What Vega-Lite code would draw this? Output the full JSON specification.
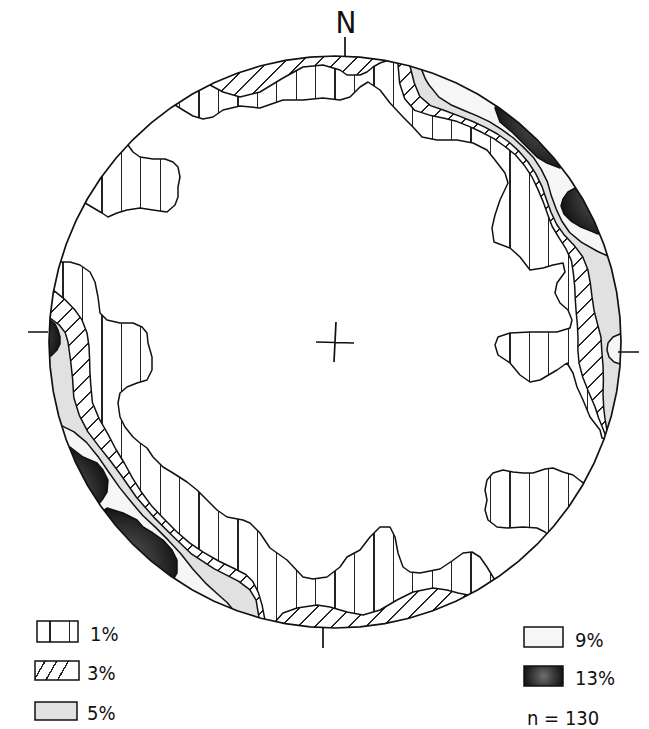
{
  "$schema": "https://vega.github.io/schema/vega-lite/v6.json",
  "width": 649,
  "height": 729,
  "padding": 0,
  "autosize": {"type": "none"},
  "background": "white",
  "config": {"view": {"stroke": null}},
  "projection": {"type": "identity", "reflectY": true, "scale": 1, "translate": [335, 342]},
  "datasets": {
    "contours": [
      {"type": "Feature", "properties": {"level": "1%"}, "geometry": {"type": "MultiPolygon", "coordinates": [
        [[[-160,237],[-152,232],[-142,226],[-132,223],[-122,225],[-112,232],[-95,236],[-75,234],[-52,242],[-32,242],[-12,244],[5,242],[15,245],[25,255],[33,260],[45,252],[55,239],[68,225],[78,215],[87,205],[102,202],[122,202],[138,199],[152,192],[160,182],[170,169],[173,159],[165,142],[160,127],[157,114],[159,100],[175,94],[185,85],[195,72],[208,74],[218,77],[228,79],[230,70],[222,59],[220,49],[225,39],[233,32],[237,22],[235,14],[222,10],[195,10],[175,9],[163,5],[160,-3],[163,-13],[175,-21],[185,-33],[195,-40],[205,-38],[222,-28],[232,-21],[238,-31],[242,-45],[248,-58],[255,-75],[265,-88],[267,-96],[318,-114],[340,0],[294,170],[170,294],[0,340],[-170,294],[-190,282],[-160,237]]],
        [[[-275,80],[-265,80],[-255,77],[-245,70],[-240,60],[-237,45],[-235,29],[-228,22],[-215,19],[-202,19],[-193,15],[-188,9],[-187,-1],[-183,-15],[-183,-28],[-188,-38],[-198,-41],[-208,-45],[-215,-51],[-217,-61],[-215,-75],[-210,-85],[-202,-95],[-195,-101],[-188,-106],[-182,-115],[-172,-125],[-162,-131],[-148,-140],[-138,-148],[-128,-158],[-118,-168],[-108,-175],[-92,-178],[-85,-181],[-75,-191],[-65,-206],[-48,-218],[-32,-235],[-22,-237],[-8,-235],[5,-225],[12,-215],[25,-208],[35,-195],[45,-185],[55,-185],[60,-195],[63,-211],[68,-225],[75,-230],[85,-231],[95,-229],[105,-227],[117,-219],[128,-211],[137,-210],[145,-215],[152,-225],[158,-235],[190,-282],[170,-294],[0,-340],[-170,-294],[-294,-170],[-340,0],[-327,95],[-275,80]]],
        [[[-207,197],[-202,190],[-195,185],[-182,183],[-170,183],[-162,180],[-157,175],[-155,165],[-157,155],[-157,145],[-160,137],[-168,130],[-182,132],[-195,134],[-208,132],[-218,129],[-227,125],[-233,129],[-250,139],[-300,167],[-248,236],[-207,197]]],
        [[[247,-140],[238,-133],[228,-130],[218,-126],[210,-127],[198,-131],[188,-131],[178,-130],[168,-128],[158,-131],[152,-138],[150,-148],[152,-158],[150,-168],[153,-178],[162,-185],[172,-186],[188,-185],[202,-186],[210,-190],[252,-228],[296,-168],[247,-140]]]
      ]}},
      {"type": "Feature", "properties": {"level": "3%"}, "geometry": {"type": "MultiPolygon", "coordinates": [
        [[[-125,257],[-112,250],[-95,245],[-75,250],[-52,264],[-32,275],[-12,277],[5,272],[12,267],[25,267],[32,270],[38,275],[45,279],[51,281],[61,337],[0,340],[-150,308],[-125,257]]],
        [[[62.9,279.0],[64.6,259.1],[69.7,243.2],[79.8,231.6],[96.1,226.4],[109.2,223.8],[122.2,220.4],[134.6,215.4],[146.8,209.7],[158.9,203.3],[169.9,195.5],[180.6,187.0],[189.4,176.6],[196.9,165.2],[202.8,152.9],[208.1,140.4],[212.6,127.7],[217.2,115.5],[223.9,104.4],[230.9,93.3],[236.4,81.4],[238.4,68.3],[239.7,55.4],[240.3,42.4],[241.2,29.6],[242.4,17.0],[243.0,4.3],[242.9,-8.5],[244.1,-21.4],[247.6,-34.8],[253.3,-49.2],[260.0,-64.8],[263.4,-75.5],[267.0,-84.2],[270.4,-93.1],[321.5,-110.7],[340,0],[294.4,170],[170,294.4],[74.7,331.7],[62.9,279.0]]],
        [[[-281.3,51.6],[-270.6,42.9],[-260.0,31.9],[-253.0,22.1],[-247.9,8.7],[-246.0,-4.3],[-245.4,-17.2],[-245.1,-30.1],[-244.2,-43.1],[-242.6,-60.5],[-235.9,-76.6],[-227.2,-91.8],[-219.3,-107.0],[-210.4,-121.5],[-202.3,-136.4],[-193.1,-150.8],[-182.8,-164.6],[-170.9,-176.9],[-158.8,-189.2],[-145.8,-200.6],[-131.4,-210.3],[-116.4,-219.0],[-100.9,-226.5],[-89.2,-232.5],[-82.4,-239.2],[-76.6,-250.6],[-72.9,-263.1],[-70.2,-277.2],[-83.4,-329.6],[-170,-294.4],[-294.4,-170],[-340,0],[-334.4,61.4],[-281.3,51.6]]],
        [[[-60,-280],[-52,-271],[-38,-266],[-18,-263],[-5,-265],[12,-270],[28,-273],[45,-268],[62,-258],[78,-250],[98,-246],[112,-248],[123,-251],[133,-253],[160,-304],[0,-340],[-72,-336],[-60,-280]]]
      ]}},
      {"type": "Feature", "properties": {"level": "5%"}, "geometry": {"type": "MultiPolygon", "coordinates": [
        [[[75.0,276.0],[79.2,259.2],[84.7,245.8],[95.5,236.4],[108.2,232.0],[125.1,225.6],[137.8,220.5],[150.3,214.6],[162.5,208.0],[173.9,200.0],[184.1,190.6],[193.1,180.0],[200.7,168.4],[206.8,155.9],[211.4,142.6],[216.0,129.8],[221.6,117.8],[229.3,106.9],[239.2,96.6],[247.7,85.3],[252.8,72.5],[255.3,59.0],[257.0,45.3],[259.0,31.8],[262.4,18.4],[266.0,4.7],[266.8,-9.3],[268.0,-23.5],[268.4,-37.7],[268.0,-52.1],[268.8,-67.0],[270.1,-77.4],[272.0,-88.4],[323.4,-105.1],[340,0],[294.4,170],[170,294.4],[89.1,328.1],[75.0,276.0]]],
        [[[-285.0,23.9],[-275.5,16.8],[-269.8,9.4],[-267.0,0],[-264.4,-18.5],[-262.4,-36.9],[-261.2,-55.5],[-255.7,-73.3],[-247.1,-89.9],[-235.7,-104.9],[-224.3,-119.3],[-213.7,-133.5],[-198.6,-155.2],[-181.3,-175.1],[-162.6,-193.8],[-143.2,-212.2],[-120.7,-226.9],[-96.6,-239.2],[-85.3,-247.7],[-78.9,-258.2],[-76.0,-275.7],[-90.3,-327.8],[-170,-294.4],[-294.4,-170],[-340,0],[-338.8,28.5],[-285.0,23.9]]]
      ]}},
      {"type": "Feature", "properties": {"level": "9%"}, "geometry": {"type": "MultiPolygon", "coordinates": [
        [[[86.5,272.6],[90.5,262.8],[93.7,257.5],[103.9,244.9],[115.7,237.3],[128.5,231.8],[141.5,226.4],[154.3,220.4],[166.2,212.8],[177.8,204.5],[188.3,194.9],[198.2,184.8],[206.1,172.9],[212.4,160.1],[216.4,145.9],[221.2,132.9],[226.9,120.7],[234.7,109.5],[246.6,99.6],[262.8,90.5],[272.8,86.0],[324.3,102.2],[294.4,170],[170,294.4],[102.8,324.1],[86.5,272.6]]],
        [[[-273.5,-83.6],[-261.0,-89.9],[-248.5,-100.4],[-236.4,-115.3],[-226.0,-130.5],[-215.5,-145.4],[-204.1,-159.5],[-192.5,-173.3],[-179.2,-185.6],[-166.5,-198.4],[-154.0,-212.0],[-142.0,-227.3],[-128.6,-241.9],[-117.5,-252.0],[-107.9,-260.5],[-102.5,-267.0],[-121.9,-317.4],[-170,-294.4],[-294.4,-170],[-325.1,-99.4],[-273.5,-83.6]]],
        [[[285,8],[278,5],[273,-1],[272,-8],[274,-15],[279,-20],[285,-22],[342,-26],[342,10],[285,8]]]
      ]}},
      {"type": "Feature", "properties": {"level": "13%"}, "geometry": {"type": "Polygon", "coordinates": [[[160,234],[165,220],[178,209],[192,195],[202,185],[212,179],[225,174],[270,209],[192,281],[160,234]]]}},
      {"type": "Feature", "properties": {"level": "13%"}, "geometry": {"type": "Polygon", "coordinates": [[[242,155],[233,150],[228,143],[226,136],[229,128],[236,121],[246,115],[256,111],[263,108],[316,130],[290,186],[242,155]]]}},
      {"type": "Feature", "properties": {"level": "13%"}, "geometry": {"type": "Polygon", "coordinates": [[[-265,-105],[-252,-115],[-238,-121],[-232,-128],[-227,-138],[-228,-150],[-233,-158],[-237,-163],[-284,-196],[-318,-126],[-265,-105]]]}},
      {"type": "Feature", "properties": {"level": "13%"}, "geometry": {"type": "Polygon", "coordinates": [[[-228,-166],[-212,-171],[-198,-178],[-192,-185],[-182,-191],[-172,-198],[-163,-208],[-158,-218],[-158,-231],[-162,-238],[-194,-286],[-274,-199],[-228,-166]]]}},
      {"type": "Feature", "properties": {"level": "13%"}, "geometry": {"type": "Polygon", "coordinates": [[[-285,22],[-280,18],[-277,12],[-275,5],[-275,-2],[-278,-8],[-284,-14],[-341,-17],[-341,26],[-285,22]]]}}
    ],
    "frame": [
      {"type": "Feature", "properties": {"part": "mask"}, "geometry": {"type": "Polygon", "coordinates": [
        [[-400,430],[400,430],[400,-430],[-400,-430],[-400,430]],
        [[286,0],[284.9,24.9],[281.7,49.7],[276.3,74],[268.8,97.8],[259.2,120.9],[247.7,143],[234.3,164],[219.1,183.8],[202.2,202.2],[183.8,219.1],[164,234.3],[143,247.7],[120.9,259.2],[97.8,268.8],[74,276.3],[49.7,281.7],[24.9,284.9],[0,286],[-24.9,284.9],[-49.7,281.7],[-74,276.3],[-97.8,268.8],[-120.9,259.2],[-143,247.7],[-164,234.3],[-183.8,219.1],[-202.2,202.2],[-219.1,183.8],[-234.3,164],[-247.7,143],[-259.2,120.9],[-268.8,97.8],[-276.3,74],[-281.7,49.7],[-284.9,24.9],[-286,0],[-284.9,-24.9],[-281.7,-49.7],[-276.3,-74],[-268.8,-97.8],[-259.2,-120.9],[-247.7,-143],[-234.3,-164],[-219.1,-183.8],[-202.2,-202.2],[-183.8,-219.1],[-164,-234.3],[-143,-247.7],[-120.9,-259.2],[-97.8,-268.8],[-74,-276.3],[-49.7,-281.7],[-24.9,-284.9],[0,-286],[24.9,-284.9],[49.7,-281.7],[74,-276.3],[97.8,-268.8],[120.9,-259.2],[143,-247.7],[164,-234.3],[183.8,-219.1],[202.2,-202.2],[219.1,-183.8],[234.3,-164],[247.7,-143],[259.2,-120.9],[268.8,-97.8],[276.3,-74],[281.7,-49.7],[284.9,-24.9],[286,0]]
      ]}},
      {"type": "Feature", "properties": {"part": "net"}, "geometry": {"type": "LineString", "coordinates": [[286,0],[284.9,24.9],[281.7,49.7],[276.3,74],[268.8,97.8],[259.2,120.9],[247.7,143],[234.3,164],[219.1,183.8],[202.2,202.2],[183.8,219.1],[164,234.3],[143,247.7],[120.9,259.2],[97.8,268.8],[74,276.3],[49.7,281.7],[24.9,284.9],[0,286],[-24.9,284.9],[-49.7,281.7],[-74,276.3],[-97.8,268.8],[-120.9,259.2],[-143,247.7],[-164,234.3],[-183.8,219.1],[-202.2,202.2],[-219.1,183.8],[-234.3,164],[-247.7,143],[-259.2,120.9],[-268.8,97.8],[-276.3,74],[-281.7,49.7],[-284.9,24.9],[-286,0],[-284.9,-24.9],[-281.7,-49.7],[-276.3,-74],[-268.8,-97.8],[-259.2,-120.9],[-247.7,-143],[-234.3,-164],[-219.1,-183.8],[-202.2,-202.2],[-183.8,-219.1],[-164,-234.3],[-143,-247.7],[-120.9,-259.2],[-97.8,-268.8],[-74,-276.3],[-49.7,-281.7],[-24.9,-284.9],[0,-286],[24.9,-284.9],[49.7,-281.7],[74,-276.3],[97.8,-268.8],[120.9,-259.2],[143,-247.7],[164,-234.3],[183.8,-219.1],[202.2,-202.2],[219.1,-183.8],[234.3,-164],[247.7,-143],[259.2,-120.9],[268.8,-97.8],[276.3,-74],[281.7,-49.7],[284.9,-24.9],[286,0]]}},
      {"type": "Feature", "properties": {"part": "tick"}, "geometry": {"type": "MultiLineString", "coordinates": [
        [[10,285],[10,305]],
        [[-307,10],[-287,10]],
        [[283,-10],[304,-10]],
        [[-12,-285],[-12,-306]],
        [[1,20],[-1,-20]],
        [[-19,0],[19,-1]]
      ]}}
    ],
    "key": [
      {"type": "Feature", "properties": {"level": "1%"}, "geometry": {"type": "Polygon", "coordinates": [[[-298,-279],[-257,-279],[-257,-300],[-298,-300],[-298,-279]]]}},
      {"type": "Feature", "properties": {"level": "3%"}, "geometry": {"type": "Polygon", "coordinates": [[[-300,-319],[-256,-319],[-256,-338],[-300,-338],[-300,-319]]]}},
      {"type": "Feature", "properties": {"level": "5%"}, "geometry": {"type": "Polygon", "coordinates": [[[-300,-360],[-258,-360],[-258,-378],[-300,-378],[-300,-360]]]}},
      {"type": "Feature", "properties": {"level": "9%"}, "geometry": {"type": "Polygon", "coordinates": [[[189,-285],[228,-285],[228,-305],[189,-305],[189,-285]]]}},
      {"type": "Feature", "properties": {"level": "13%"}, "geometry": {"type": "Polygon", "coordinates": [[[189,-324],[228,-324],[228,-344],[189,-344],[189,-324]]]}}
    ],
    "labels": [
      {"text": "N", "x": 11, "y": 309, "role": "north"},
      {"text": "1%", "x": -245, "y": -299, "role": "key"},
      {"text": "3%", "x": -248, "y": -338, "role": "key"},
      {"text": "5%", "x": -248, "y": -378, "role": "key"},
      {"text": "9%", "x": 240, "y": -305, "role": "key"},
      {"text": "13%", "x": 240, "y": -343, "role": "key"},
      {"text": "n = 130", "x": 192, "y": -383, "role": "key"}
    ]
  },
  "layer": [
    {
      "data": {"name": "contours"},
      "transform": [{"filter": "datum.properties.level === '1%'"}],
      "mark": {"type": "geoshape", "stroke": "#111", "strokeWidth": 1.5, "strokeJoin": "round",
        "fill": {"gradient": "linear", "x1": 0, "y1": 0, "x2": 1, "y2": 0, "stops": [
          {"offset": 0, "color": "#fff"},
          {"offset": 0.0135, "color": "#fff"}, {"offset": 0.0135, "color": "#222"}, {"offset": 0.0153, "color": "#222"}, {"offset": 0.0153, "color": "#fff"},
          {"offset": 0.0421, "color": "#fff"}, {"offset": 0.0421, "color": "#222"}, {"offset": 0.0439, "color": "#222"}, {"offset": 0.0439, "color": "#fff"},
          {"offset": 0.0706, "color": "#fff"}, {"offset": 0.0706, "color": "#222"}, {"offset": 0.0724, "color": "#222"}, {"offset": 0.0724, "color": "#fff"},
          {"offset": 0.0992, "color": "#fff"}, {"offset": 0.0992, "color": "#222"}, {"offset": 0.1010, "color": "#222"}, {"offset": 0.1010, "color": "#fff"},
          {"offset": 0.1278, "color": "#fff"}, {"offset": 0.1278, "color": "#222"}, {"offset": 0.1296, "color": "#222"}, {"offset": 0.1296, "color": "#fff"},
          {"offset": 0.1564, "color": "#fff"}, {"offset": 0.1564, "color": "#222"}, {"offset": 0.1582, "color": "#222"}, {"offset": 0.1582, "color": "#fff"},
          {"offset": 0.1849, "color": "#fff"}, {"offset": 0.1849, "color": "#222"}, {"offset": 0.1867, "color": "#222"}, {"offset": 0.1867, "color": "#fff"},
          {"offset": 0.2135, "color": "#fff"}, {"offset": 0.2135, "color": "#222"}, {"offset": 0.2153, "color": "#222"}, {"offset": 0.2153, "color": "#fff"},
          {"offset": 0.2421, "color": "#fff"}, {"offset": 0.2421, "color": "#222"}, {"offset": 0.2439, "color": "#222"}, {"offset": 0.2439, "color": "#fff"},
          {"offset": 0.2706, "color": "#fff"}, {"offset": 0.2706, "color": "#222"}, {"offset": 0.2724, "color": "#222"}, {"offset": 0.2724, "color": "#fff"},
          {"offset": 0.2992, "color": "#fff"}, {"offset": 0.2992, "color": "#222"}, {"offset": 0.3010, "color": "#222"}, {"offset": 0.3010, "color": "#fff"},
          {"offset": 0.3278, "color": "#fff"}, {"offset": 0.3278, "color": "#222"}, {"offset": 0.3296, "color": "#222"}, {"offset": 0.3296, "color": "#fff"},
          {"offset": 0.3564, "color": "#fff"}, {"offset": 0.3564, "color": "#222"}, {"offset": 0.3582, "color": "#222"}, {"offset": 0.3582, "color": "#fff"},
          {"offset": 0.3849, "color": "#fff"}, {"offset": 0.3849, "color": "#222"}, {"offset": 0.3867, "color": "#222"}, {"offset": 0.3867, "color": "#fff"},
          {"offset": 0.4135, "color": "#fff"}, {"offset": 0.4135, "color": "#222"}, {"offset": 0.4153, "color": "#222"}, {"offset": 0.4153, "color": "#fff"},
          {"offset": 0.4421, "color": "#fff"}, {"offset": 0.4421, "color": "#222"}, {"offset": 0.4439, "color": "#222"}, {"offset": 0.4439, "color": "#fff"},
          {"offset": 0.4706, "color": "#fff"}, {"offset": 0.4706, "color": "#222"}, {"offset": 0.4724, "color": "#222"}, {"offset": 0.4724, "color": "#fff"},
          {"offset": 0.4992, "color": "#fff"}, {"offset": 0.4992, "color": "#222"}, {"offset": 0.5010, "color": "#222"}, {"offset": 0.5010, "color": "#fff"},
          {"offset": 0.5278, "color": "#fff"}, {"offset": 0.5278, "color": "#222"}, {"offset": 0.5296, "color": "#222"}, {"offset": 0.5296, "color": "#fff"},
          {"offset": 0.5564, "color": "#fff"}, {"offset": 0.5564, "color": "#222"}, {"offset": 0.5582, "color": "#222"}, {"offset": 0.5582, "color": "#fff"},
          {"offset": 0.5849, "color": "#fff"}, {"offset": 0.5849, "color": "#222"}, {"offset": 0.5867, "color": "#222"}, {"offset": 0.5867, "color": "#fff"},
          {"offset": 0.6135, "color": "#fff"}, {"offset": 0.6135, "color": "#222"}, {"offset": 0.6153, "color": "#222"}, {"offset": 0.6153, "color": "#fff"},
          {"offset": 0.6421, "color": "#fff"}, {"offset": 0.6421, "color": "#222"}, {"offset": 0.6439, "color": "#222"}, {"offset": 0.6439, "color": "#fff"},
          {"offset": 0.6706, "color": "#fff"}, {"offset": 0.6706, "color": "#222"}, {"offset": 0.6724, "color": "#222"}, {"offset": 0.6724, "color": "#fff"},
          {"offset": 0.6992, "color": "#fff"}, {"offset": 0.6992, "color": "#222"}, {"offset": 0.7010, "color": "#222"}, {"offset": 0.7010, "color": "#fff"},
          {"offset": 0.7278, "color": "#fff"}, {"offset": 0.7278, "color": "#222"}, {"offset": 0.7296, "color": "#222"}, {"offset": 0.7296, "color": "#fff"},
          {"offset": 0.7564, "color": "#fff"}, {"offset": 0.7564, "color": "#222"}, {"offset": 0.7582, "color": "#222"}, {"offset": 0.7582, "color": "#fff"},
          {"offset": 0.7849, "color": "#fff"}, {"offset": 0.7849, "color": "#222"}, {"offset": 0.7867, "color": "#222"}, {"offset": 0.7867, "color": "#fff"},
          {"offset": 0.8135, "color": "#fff"}, {"offset": 0.8135, "color": "#222"}, {"offset": 0.8153, "color": "#222"}, {"offset": 0.8153, "color": "#fff"},
          {"offset": 0.8421, "color": "#fff"}, {"offset": 0.8421, "color": "#222"}, {"offset": 0.8439, "color": "#222"}, {"offset": 0.8439, "color": "#fff"},
          {"offset": 0.8706, "color": "#fff"}, {"offset": 0.8706, "color": "#222"}, {"offset": 0.8724, "color": "#222"}, {"offset": 0.8724, "color": "#fff"},
          {"offset": 0.8992, "color": "#fff"}, {"offset": 0.8992, "color": "#222"}, {"offset": 0.9010, "color": "#222"}, {"offset": 0.9010, "color": "#fff"},
          {"offset": 0.9278, "color": "#fff"}, {"offset": 0.9278, "color": "#222"}, {"offset": 0.9296, "color": "#222"}, {"offset": 0.9296, "color": "#fff"},
          {"offset": 0.9564, "color": "#fff"}, {"offset": 0.9564, "color": "#222"}, {"offset": 0.9582, "color": "#222"}, {"offset": 0.9582, "color": "#fff"},
          {"offset": 0.9849, "color": "#fff"}, {"offset": 0.9849, "color": "#222"}, {"offset": 0.9867, "color": "#222"}, {"offset": 0.9867, "color": "#fff"},
          {"offset": 1, "color": "#fff"}
        ]}}
    },
    {
      "data": {"name": "contours"},
      "transform": [{"filter": "datum.properties.level === '3%'"}],
      "mark": {"type": "geoshape", "stroke": "#111", "strokeWidth": 1.5, "strokeJoin": "round",
        "fill": {"gradient": "linear", "x1": 0, "y1": 0, "x2": 1, "y2": 1, "stops": [
          {"offset": 0, "color": "#fff"},
          {"offset": 0.0060, "color": "#fff"}, {"offset": 0.0060, "color": "#222"}, {"offset": 0.0074, "color": "#222"}, {"offset": 0.0074, "color": "#fff"},
          {"offset": 0.0185, "color": "#fff"}, {"offset": 0.0185, "color": "#222"}, {"offset": 0.0199, "color": "#222"}, {"offset": 0.0199, "color": "#fff"},
          {"offset": 0.0310, "color": "#fff"}, {"offset": 0.0310, "color": "#222"}, {"offset": 0.0324, "color": "#222"}, {"offset": 0.0324, "color": "#fff"},
          {"offset": 0.0435, "color": "#fff"}, {"offset": 0.0435, "color": "#222"}, {"offset": 0.0449, "color": "#222"}, {"offset": 0.0449, "color": "#fff"},
          {"offset": 0.0560, "color": "#fff"}, {"offset": 0.0560, "color": "#222"}, {"offset": 0.0574, "color": "#222"}, {"offset": 0.0574, "color": "#fff"},
          {"offset": 0.0685, "color": "#fff"}, {"offset": 0.0685, "color": "#222"}, {"offset": 0.0699, "color": "#222"}, {"offset": 0.0699, "color": "#fff"},
          {"offset": 0.0810, "color": "#fff"}, {"offset": 0.0810, "color": "#222"}, {"offset": 0.0824, "color": "#222"}, {"offset": 0.0824, "color": "#fff"},
          {"offset": 0.0935, "color": "#fff"}, {"offset": 0.0935, "color": "#222"}, {"offset": 0.0949, "color": "#222"}, {"offset": 0.0949, "color": "#fff"},
          {"offset": 0.1060, "color": "#fff"}, {"offset": 0.1060, "color": "#222"}, {"offset": 0.1074, "color": "#222"}, {"offset": 0.1074, "color": "#fff"},
          {"offset": 0.1185, "color": "#fff"}, {"offset": 0.1185, "color": "#222"}, {"offset": 0.1199, "color": "#222"}, {"offset": 0.1199, "color": "#fff"},
          {"offset": 0.1310, "color": "#fff"}, {"offset": 0.1310, "color": "#222"}, {"offset": 0.1324, "color": "#222"}, {"offset": 0.1324, "color": "#fff"},
          {"offset": 0.1435, "color": "#fff"}, {"offset": 0.1435, "color": "#222"}, {"offset": 0.1449, "color": "#222"}, {"offset": 0.1449, "color": "#fff"},
          {"offset": 0.1560, "color": "#fff"}, {"offset": 0.1560, "color": "#222"}, {"offset": 0.1574, "color": "#222"}, {"offset": 0.1574, "color": "#fff"},
          {"offset": 0.1685, "color": "#fff"}, {"offset": 0.1685, "color": "#222"}, {"offset": 0.1699, "color": "#222"}, {"offset": 0.1699, "color": "#fff"},
          {"offset": 0.1810, "color": "#fff"}, {"offset": 0.1810, "color": "#222"}, {"offset": 0.1824, "color": "#222"}, {"offset": 0.1824, "color": "#fff"},
          {"offset": 0.1935, "color": "#fff"}, {"offset": 0.1935, "color": "#222"}, {"offset": 0.1949, "color": "#222"}, {"offset": 0.1949, "color": "#fff"},
          {"offset": 0.2060, "color": "#fff"}, {"offset": 0.2060, "color": "#222"}, {"offset": 0.2074, "color": "#222"}, {"offset": 0.2074, "color": "#fff"},
          {"offset": 0.2185, "color": "#fff"}, {"offset": 0.2185, "color": "#222"}, {"offset": 0.2199, "color": "#222"}, {"offset": 0.2199, "color": "#fff"},
          {"offset": 0.2310, "color": "#fff"}, {"offset": 0.2310, "color": "#222"}, {"offset": 0.2324, "color": "#222"}, {"offset": 0.2324, "color": "#fff"},
          {"offset": 0.2435, "color": "#fff"}, {"offset": 0.2435, "color": "#222"}, {"offset": 0.2449, "color": "#222"}, {"offset": 0.2449, "color": "#fff"},
          {"offset": 0.2560, "color": "#fff"}, {"offset": 0.2560, "color": "#222"}, {"offset": 0.2574, "color": "#222"}, {"offset": 0.2574, "color": "#fff"},
          {"offset": 0.2685, "color": "#fff"}, {"offset": 0.2685, "color": "#222"}, {"offset": 0.2699, "color": "#222"}, {"offset": 0.2699, "color": "#fff"},
          {"offset": 0.2810, "color": "#fff"}, {"offset": 0.2810, "color": "#222"}, {"offset": 0.2824, "color": "#222"}, {"offset": 0.2824, "color": "#fff"},
          {"offset": 0.2935, "color": "#fff"}, {"offset": 0.2935, "color": "#222"}, {"offset": 0.2949, "color": "#222"}, {"offset": 0.2949, "color": "#fff"},
          {"offset": 0.3060, "color": "#fff"}, {"offset": 0.3060, "color": "#222"}, {"offset": 0.3074, "color": "#222"}, {"offset": 0.3074, "color": "#fff"},
          {"offset": 0.3185, "color": "#fff"}, {"offset": 0.3185, "color": "#222"}, {"offset": 0.3199, "color": "#222"}, {"offset": 0.3199, "color": "#fff"},
          {"offset": 0.3310, "color": "#fff"}, {"offset": 0.3310, "color": "#222"}, {"offset": 0.3324, "color": "#222"}, {"offset": 0.3324, "color": "#fff"},
          {"offset": 0.3435, "color": "#fff"}, {"offset": 0.3435, "color": "#222"}, {"offset": 0.3449, "color": "#222"}, {"offset": 0.3449, "color": "#fff"},
          {"offset": 0.3560, "color": "#fff"}, {"offset": 0.3560, "color": "#222"}, {"offset": 0.3574, "color": "#222"}, {"offset": 0.3574, "color": "#fff"},
          {"offset": 0.3685, "color": "#fff"}, {"offset": 0.3685, "color": "#222"}, {"offset": 0.3699, "color": "#222"}, {"offset": 0.3699, "color": "#fff"},
          {"offset": 0.3810, "color": "#fff"}, {"offset": 0.3810, "color": "#222"}, {"offset": 0.3824, "color": "#222"}, {"offset": 0.3824, "color": "#fff"},
          {"offset": 0.3935, "color": "#fff"}, {"offset": 0.3935, "color": "#222"}, {"offset": 0.3949, "color": "#222"}, {"offset": 0.3949, "color": "#fff"},
          {"offset": 0.4060, "color": "#fff"}, {"offset": 0.4060, "color": "#222"}, {"offset": 0.4074, "color": "#222"}, {"offset": 0.4074, "color": "#fff"},
          {"offset": 0.4185, "color": "#fff"}, {"offset": 0.4185, "color": "#222"}, {"offset": 0.4199, "color": "#222"}, {"offset": 0.4199, "color": "#fff"},
          {"offset": 0.4310, "color": "#fff"}, {"offset": 0.4310, "color": "#222"}, {"offset": 0.4324, "color": "#222"}, {"offset": 0.4324, "color": "#fff"},
          {"offset": 0.4435, "color": "#fff"}, {"offset": 0.4435, "color": "#222"}, {"offset": 0.4449, "color": "#222"}, {"offset": 0.4449, "color": "#fff"},
          {"offset": 0.4560, "color": "#fff"}, {"offset": 0.4560, "color": "#222"}, {"offset": 0.4574, "color": "#222"}, {"offset": 0.4574, "color": "#fff"},
          {"offset": 0.4685, "color": "#fff"}, {"offset": 0.4685, "color": "#222"}, {"offset": 0.4699, "color": "#222"}, {"offset": 0.4699, "color": "#fff"},
          {"offset": 0.4810, "color": "#fff"}, {"offset": 0.4810, "color": "#222"}, {"offset": 0.4824, "color": "#222"}, {"offset": 0.4824, "color": "#fff"},
          {"offset": 0.4935, "color": "#fff"}, {"offset": 0.4935, "color": "#222"}, {"offset": 0.4949, "color": "#222"}, {"offset": 0.4949, "color": "#fff"},
          {"offset": 0.5060, "color": "#fff"}, {"offset": 0.5060, "color": "#222"}, {"offset": 0.5074, "color": "#222"}, {"offset": 0.5074, "color": "#fff"},
          {"offset": 0.5185, "color": "#fff"}, {"offset": 0.5185, "color": "#222"}, {"offset": 0.5199, "color": "#222"}, {"offset": 0.5199, "color": "#fff"},
          {"offset": 0.5310, "color": "#fff"}, {"offset": 0.5310, "color": "#222"}, {"offset": 0.5324, "color": "#222"}, {"offset": 0.5324, "color": "#fff"},
          {"offset": 0.5435, "color": "#fff"}, {"offset": 0.5435, "color": "#222"}, {"offset": 0.5449, "color": "#222"}, {"offset": 0.5449, "color": "#fff"},
          {"offset": 0.5560, "color": "#fff"}, {"offset": 0.5560, "color": "#222"}, {"offset": 0.5574, "color": "#222"}, {"offset": 0.5574, "color": "#fff"},
          {"offset": 0.5685, "color": "#fff"}, {"offset": 0.5685, "color": "#222"}, {"offset": 0.5699, "color": "#222"}, {"offset": 0.5699, "color": "#fff"},
          {"offset": 0.5810, "color": "#fff"}, {"offset": 0.5810, "color": "#222"}, {"offset": 0.5824, "color": "#222"}, {"offset": 0.5824, "color": "#fff"},
          {"offset": 0.5935, "color": "#fff"}, {"offset": 0.5935, "color": "#222"}, {"offset": 0.5949, "color": "#222"}, {"offset": 0.5949, "color": "#fff"},
          {"offset": 0.6060, "color": "#fff"}, {"offset": 0.6060, "color": "#222"}, {"offset": 0.6074, "color": "#222"}, {"offset": 0.6074, "color": "#fff"},
          {"offset": 0.6185, "color": "#fff"}, {"offset": 0.6185, "color": "#222"}, {"offset": 0.6199, "color": "#222"}, {"offset": 0.6199, "color": "#fff"},
          {"offset": 0.6310, "color": "#fff"}, {"offset": 0.6310, "color": "#222"}, {"offset": 0.6324, "color": "#222"}, {"offset": 0.6324, "color": "#fff"},
          {"offset": 0.6435, "color": "#fff"}, {"offset": 0.6435, "color": "#222"}, {"offset": 0.6449, "color": "#222"}, {"offset": 0.6449, "color": "#fff"},
          {"offset": 0.6560, "color": "#fff"}, {"offset": 0.6560, "color": "#222"}, {"offset": 0.6574, "color": "#222"}, {"offset": 0.6574, "color": "#fff"},
          {"offset": 0.6685, "color": "#fff"}, {"offset": 0.6685, "color": "#222"}, {"offset": 0.6699, "color": "#222"}, {"offset": 0.6699, "color": "#fff"},
          {"offset": 0.6810, "color": "#fff"}, {"offset": 0.6810, "color": "#222"}, {"offset": 0.6824, "color": "#222"}, {"offset": 0.6824, "color": "#fff"},
          {"offset": 0.6935, "color": "#fff"}, {"offset": 0.6935, "color": "#222"}, {"offset": 0.6949, "color": "#222"}, {"offset": 0.6949, "color": "#fff"},
          {"offset": 0.7060, "color": "#fff"}, {"offset": 0.7060, "color": "#222"}, {"offset": 0.7074, "color": "#222"}, {"offset": 0.7074, "color": "#fff"},
          {"offset": 0.7185, "color": "#fff"}, {"offset": 0.7185, "color": "#222"}, {"offset": 0.7199, "color": "#222"}, {"offset": 0.7199, "color": "#fff"},
          {"offset": 0.7310, "color": "#fff"}, {"offset": 0.7310, "color": "#222"}, {"offset": 0.7324, "color": "#222"}, {"offset": 0.7324, "color": "#fff"},
          {"offset": 0.7435, "color": "#fff"}, {"offset": 0.7435, "color": "#222"}, {"offset": 0.7449, "color": "#222"}, {"offset": 0.7449, "color": "#fff"},
          {"offset": 0.7560, "color": "#fff"}, {"offset": 0.7560, "color": "#222"}, {"offset": 0.7574, "color": "#222"}, {"offset": 0.7574, "color": "#fff"},
          {"offset": 0.7685, "color": "#fff"}, {"offset": 0.7685, "color": "#222"}, {"offset": 0.7699, "color": "#222"}, {"offset": 0.7699, "color": "#fff"},
          {"offset": 0.7810, "color": "#fff"}, {"offset": 0.7810, "color": "#222"}, {"offset": 0.7824, "color": "#222"}, {"offset": 0.7824, "color": "#fff"},
          {"offset": 0.7935, "color": "#fff"}, {"offset": 0.7935, "color": "#222"}, {"offset": 0.7949, "color": "#222"}, {"offset": 0.7949, "color": "#fff"},
          {"offset": 0.8060, "color": "#fff"}, {"offset": 0.8060, "color": "#222"}, {"offset": 0.8074, "color": "#222"}, {"offset": 0.8074, "color": "#fff"},
          {"offset": 0.8185, "color": "#fff"}, {"offset": 0.8185, "color": "#222"}, {"offset": 0.8199, "color": "#222"}, {"offset": 0.8199, "color": "#fff"},
          {"offset": 0.8310, "color": "#fff"}, {"offset": 0.8310, "color": "#222"}, {"offset": 0.8324, "color": "#222"}, {"offset": 0.8324, "color": "#fff"},
          {"offset": 0.8435, "color": "#fff"}, {"offset": 0.8435, "color": "#222"}, {"offset": 0.8449, "color": "#222"}, {"offset": 0.8449, "color": "#fff"},
          {"offset": 0.8560, "color": "#fff"}, {"offset": 0.8560, "color": "#222"}, {"offset": 0.8574, "color": "#222"}, {"offset": 0.8574, "color": "#fff"},
          {"offset": 0.8685, "color": "#fff"}, {"offset": 0.8685, "color": "#222"}, {"offset": 0.8699, "color": "#222"}, {"offset": 0.8699, "color": "#fff"},
          {"offset": 0.8810, "color": "#fff"}, {"offset": 0.8810, "color": "#222"}, {"offset": 0.8824, "color": "#222"}, {"offset": 0.8824, "color": "#fff"},
          {"offset": 0.8935, "color": "#fff"}, {"offset": 0.8935, "color": "#222"}, {"offset": 0.8949, "color": "#222"}, {"offset": 0.8949, "color": "#fff"},
          {"offset": 0.9060, "color": "#fff"}, {"offset": 0.9060, "color": "#222"}, {"offset": 0.9074, "color": "#222"}, {"offset": 0.9074, "color": "#fff"},
          {"offset": 0.9185, "color": "#fff"}, {"offset": 0.9185, "color": "#222"}, {"offset": 0.9199, "color": "#222"}, {"offset": 0.9199, "color": "#fff"},
          {"offset": 0.9310, "color": "#fff"}, {"offset": 0.9310, "color": "#222"}, {"offset": 0.9324, "color": "#222"}, {"offset": 0.9324, "color": "#fff"},
          {"offset": 0.9435, "color": "#fff"}, {"offset": 0.9435, "color": "#222"}, {"offset": 0.9449, "color": "#222"}, {"offset": 0.9449, "color": "#fff"},
          {"offset": 0.9560, "color": "#fff"}, {"offset": 0.9560, "color": "#222"}, {"offset": 0.9574, "color": "#222"}, {"offset": 0.9574, "color": "#fff"},
          {"offset": 0.9685, "color": "#fff"}, {"offset": 0.9685, "color": "#222"}, {"offset": 0.9699, "color": "#222"}, {"offset": 0.9699, "color": "#fff"},
          {"offset": 0.9810, "color": "#fff"}, {"offset": 0.9810, "color": "#222"}, {"offset": 0.9824, "color": "#222"}, {"offset": 0.9824, "color": "#fff"},
          {"offset": 0.9935, "color": "#fff"}, {"offset": 0.9935, "color": "#222"}, {"offset": 0.9949, "color": "#222"}, {"offset": 0.9949, "color": "#fff"},
          {"offset": 1, "color": "#fff"}
        ]}}
    },
    {
      "data": {"name": "contours"},
      "transform": [{"filter": "datum.properties.level === '5%'"}],
      "mark": {"type": "geoshape", "fill": "#e1e1e1", "stroke": "#111", "strokeWidth": 1.5, "strokeJoin": "round"}
    },
    {
      "data": {"name": "contours"},
      "transform": [{"filter": "datum.properties.level === '9%'"}],
      "mark": {"type": "geoshape", "fill": "#f6f6f6", "stroke": "#111", "strokeWidth": 1.5, "strokeJoin": "round"}
    },
    {
      "data": {"name": "contours"},
      "transform": [{"filter": "datum.properties.level === '13%'"}],
      "mark": {"type": "geoshape", "stroke": "#111", "strokeWidth": 1.5, "strokeJoin": "round",
        "fill": {"gradient": "radial", "x1": 0.5, "y1": 0.5, "r1": 0, "x2": 0.5, "y2": 0.5, "r2": 0.5, "stops": [
          {"offset": 0, "color": "#6e6e6e"}, {"offset": 0.55, "color": "#3a3a3a"}, {"offset": 1, "color": "#151515"}
        ]}}
    },
    {
      "data": {"name": "frame"},
      "transform": [{"filter": "datum.properties.part === 'mask'"}],
      "mark": {"type": "geoshape", "fill": "white", "strokeWidth": 0}
    },
    {
      "data": {"name": "frame"},
      "transform": [{"filter": "datum.properties.part !== 'mask'"}],
      "mark": {"type": "geoshape", "filled": false, "stroke": "#111", "strokeWidth": 1.7, "strokeCap": "butt"}
    },
    {
      "data": {"name": "key"},
      "transform": [{"filter": "datum.properties.level === '1%'"}],
      "mark": {"type": "geoshape", "stroke": "#111", "strokeWidth": 1.5,
        "fill": {"gradient": "linear", "x1": 0, "y1": 0, "x2": 1, "y2": 0, "stops": [
          {"offset": 0, "color": "#fff"}, {"offset": 0.3, "color": "#fff"}, {"offset": 0.3, "color": "#222"}, {"offset": 0.335, "color": "#222"}, {"offset": 0.335, "color": "#fff"},
          {"offset": 0.78, "color": "#fff"}, {"offset": 0.78, "color": "#222"}, {"offset": 0.815, "color": "#222"}, {"offset": 0.815, "color": "#fff"}, {"offset": 1, "color": "#fff"}
        ]}}
    },
    {
      "data": {"name": "key"},
      "transform": [{"filter": "datum.properties.level === '3%'"}],
      "mark": {"type": "geoshape", "stroke": "#111", "strokeWidth": 1.5,
        "fill": {"gradient": "linear", "x1": 0, "y1": 0, "x2": 1, "y2": 0.25, "stops": [
          {"offset": 0, "color": "#fff"},
          {"offset": 0.2, "color": "#fff"}, {"offset": 0.2, "color": "#222"}, {"offset": 0.235, "color": "#222"}, {"offset": 0.235, "color": "#fff"},
          {"offset": 0.45, "color": "#fff"}, {"offset": 0.45, "color": "#222"}, {"offset": 0.485, "color": "#222"}, {"offset": 0.485, "color": "#fff"},
          {"offset": 0.7, "color": "#fff"}, {"offset": 0.7, "color": "#222"}, {"offset": 0.735, "color": "#222"}, {"offset": 0.735, "color": "#fff"},
          {"offset": 1, "color": "#fff"}
        ]}}
    },
    {
      "data": {"name": "key"},
      "transform": [{"filter": "datum.properties.level === '5%'"}],
      "mark": {"type": "geoshape", "fill": "#e1e1e1", "stroke": "#111", "strokeWidth": 1.5}
    },
    {
      "data": {"name": "key"},
      "transform": [{"filter": "datum.properties.level === '9%'"}],
      "mark": {"type": "geoshape", "fill": "#f6f6f6", "stroke": "#111", "strokeWidth": 1.5}
    },
    {
      "data": {"name": "key"},
      "transform": [{"filter": "datum.properties.level === '13%'"}],
      "mark": {"type": "geoshape", "stroke": "#111", "strokeWidth": 1.5,
        "fill": {"gradient": "radial", "x1": 0.5, "y1": 0.5, "r1": 0, "x2": 0.5, "y2": 0.5, "r2": 0.5, "stops": [
          {"offset": 0, "color": "#6e6e6e"}, {"offset": 0.55, "color": "#3a3a3a"}, {"offset": 1, "color": "#151515"}
        ]}}
    },
    {
      "data": {"name": "labels"},
      "transform": [{"filter": "datum.role === 'north'"}],
      "mark": {"type": "text", "font": "DejaVu Sans Condensed, Liberation Sans, sans-serif", "fontSize": 31, "align": "center", "baseline": "alphabetic", "color": "#111"},
      "encoding": {
        "longitude": {"field": "x", "type": "quantitative"},
        "latitude": {"field": "y", "type": "quantitative"},
        "text": {"field": "text"}
      }
    },
    {
      "data": {"name": "labels"},
      "transform": [{"filter": "datum.role === 'key'"}],
      "mark": {"type": "text", "font": "DejaVu Sans Condensed, Liberation Sans, sans-serif", "fontSize": 20, "align": "left", "baseline": "alphabetic", "color": "#111"},
      "encoding": {
        "longitude": {"field": "x", "type": "quantitative"},
        "latitude": {"field": "y", "type": "quantitative"},
        "text": {"field": "text"}
      }
    }
  ]
}
